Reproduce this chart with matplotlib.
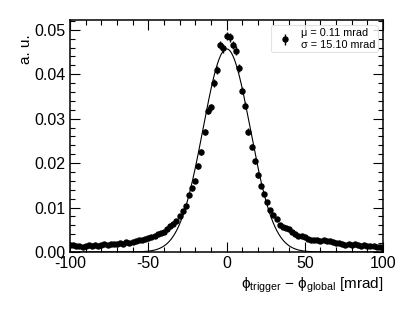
import numpy as np
import matplotlib
matplotlib.use("Agg")
import matplotlib.pyplot as plt
from matplotlib.ticker import MultipleLocator

plt.rcParams['font.family'] = ['Liberation Sans', 'DejaVu Sans']
plt.rcParams['mathtext.fontset'] = 'custom'
plt.rcParams['mathtext.rm'] = 'Liberation Sans'
plt.rcParams['mathtext.it'] = 'Liberation Sans'

# bin centres [mrad]
x_left = list(range(-100, 0, 2))
y_left = [0.0016, 0.0015, 0.0014, 0.0013, 0.0012, 0.0013, 0.0015, 0.0014, 0.0015, 0.0014,
          0.0015, 0.0017, 0.0016, 0.0017, 0.0019, 0.0018, 0.0020, 0.0019, 0.0022, 0.0021,
          0.0023, 0.0024, 0.0026, 0.0027, 0.0029, 0.0031, 0.0034, 0.0036, 0.0040, 0.0043,
          0.0046, 0.0052, 0.0058, 0.0062, 0.0070, 0.0081, 0.0092, 0.0104, 0.0128, 0.0143,
          0.0160, 0.0194, 0.0226, 0.0270, 0.0318, 0.0326, 0.0380, 0.0410, 0.0466, 0.0458]
x_right = list(range(0, 101, 2))
y_right = [0.0486, 0.0483, 0.0466, 0.0453, 0.0413, 0.0363, 0.0329, 0.0271, 0.0237, 0.0205,
           0.0173, 0.0149, 0.0130, 0.0113, 0.0095, 0.0083, 0.0074, 0.0061, 0.0057, 0.0054,
           0.0051, 0.0046, 0.0040, 0.0037, 0.0035, 0.0033, 0.0030, 0.0028, 0.0027, 0.0026,
           0.0025, 0.0026, 0.0024, 0.0024, 0.0023, 0.0021, 0.0020, 0.0018, 0.0016, 0.0018,
           0.0015, 0.0017, 0.0016, 0.0014, 0.0015, 0.0014, 0.0013, 0.0014, 0.0012, 0.0011,
           0.0008]

fit_mu = 0.11
fit_sigma = 15.10
fit_amp = 0.0457

x = np.array(x_left + x_right, dtype=float)
y = np.array(y_left + y_right)
yerr = np.sqrt(y * 2.0e-5)

fig = plt.figure(figsize=(4.15, 3.12), dpi=100)
ax = fig.add_axes([70/415, 60/312, 313/415, 232/312])

xf = np.linspace(-100, 100, 800)
yf = fit_amp * np.exp(-0.5 * ((xf - fit_mu) / fit_sigma) ** 2)
ax.plot(xf, yf, color='black', lw=0.8)

eb = ax.errorbar(x, y, yerr=yerr, fmt='o', color='black', ms=3.6, elinewidth=1.0,
                 capsize=0, zorder=3)

ax.set_xlim(-100, 100)
ax.set_ylim(0, 0.0522)
ax.xaxis.set_major_locator(MultipleLocator(50))
ax.xaxis.set_minor_locator(MultipleLocator(10))
ax.yaxis.set_major_locator(MultipleLocator(0.01))
ax.yaxis.set_minor_locator(MultipleLocator(0.002))
ax.set_yticks([0, 0.01, 0.02, 0.03, 0.04, 0.05])
ax.set_yticklabels(['0.00', '0.01', '0.02', '0.03', '0.04', '0.05'])
ax.set_xticks([-100, -50, 0, 50, 100])
ax.set_xticklabels(['-100', '-50', '0', '50', '100'])

ax.tick_params(which='both', direction='in', top=True, right=True, labelsize=11.5,
               width=0.8, pad=3)
ax.tick_params(which='major', length=7)
ax.tick_params(which='minor', length=3.5)
for s in ax.spines.values():
    s.set_linewidth(1.1)

ax.set_xlabel(r'$\phi_{\rm trigger}$ $-$ $\phi_{\rm global}$ [mrad]', fontsize=11,
              loc='right', labelpad=3)
ax.set_ylabel('a. u.', fontsize=11, loc='top', labelpad=1)
ax.yaxis.label.set_position((0, 0.94))

leg = ax.legend([eb], ['μ = 0.11 mrad\nσ = 15.10 mrad'],
                loc='upper right', fontsize=7.8, frameon=True, borderaxespad=0.5,
                handlelength=2.0, handletextpad=0.45, borderpad=0.25)
leg.get_frame().set_edgecolor('#dddddd')
leg.get_frame().set_linewidth(0.8)

fig.savefig('out.png', dpi=100)
